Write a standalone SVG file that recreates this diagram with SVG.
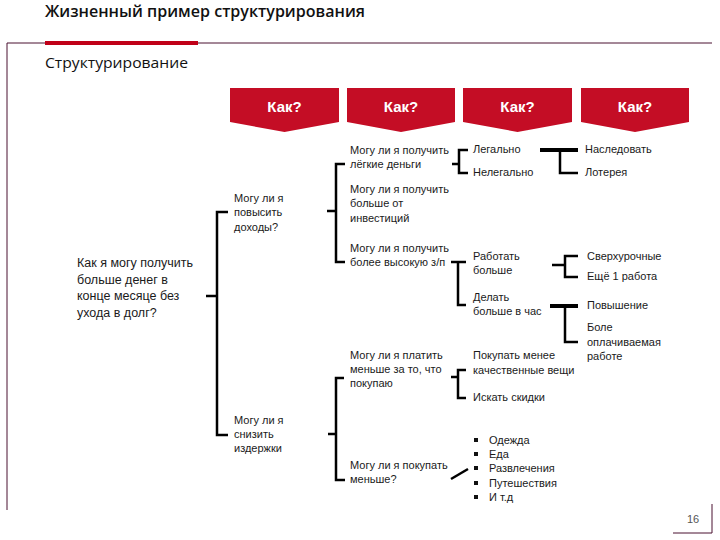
<svg xmlns="http://www.w3.org/2000/svg" width="720" height="540" viewBox="0 0 720 540">
<style>
.t{font-family:"Liberation Sans",Arial,sans-serif;font-size:11px;fill:#1a1a1a}
.big{font-size:12.5px}
.chev{fill:#c40d25}
.ct{font-family:"Liberation Sans",Arial,sans-serif;font-size:15px;font-weight:bold;fill:#ffffff;text-anchor:middle}
.ln{fill:none;stroke:#000;stroke-width:2.5}
.thick{fill:none;stroke:#000;stroke-width:4}
.frame{fill:none;stroke:#4a1030;stroke-width:1}
</style>
<rect width="720" height="540" fill="#ffffff"/>
<text x="45" y="17" font-family="'Open Sans','Liberation Sans',sans-serif" font-size="15.5" font-weight="600" fill="#111" textLength="320" lengthAdjust="spacingAndGlyphs">Жизненный пример структурирования</text>
<path class="frame" d="M7,510 V43 H712"/>
<path class="frame" d="M712,504 V533 H673"/>
<rect x="45" y="41" width="153" height="4" fill="#c00018"/>
<text x="45" y="68" font-family="'Open Sans','Liberation Sans',sans-serif" font-size="14.5" fill="#111" textLength="143" lengthAdjust="spacingAndGlyphs">Структурирование</text>

<g id="headers">
<g id="how1"><polygon class="chev" points="230,88 339,88 339,122 284.5,132 230,122"/><text class="ct" x="284.5" y="112">Как?</text></g>
<g id="how2"><polygon class="chev" points="347,88 455,88 455,122 401,132 347,122"/><text class="ct" x="401" y="112">Как?</text></g>
<g id="how3"><polygon class="chev" points="463,88 572,88 572,122 517.5,132 463,122"/><text class="ct" x="517.5" y="112">Как?</text></g>
<g id="how4"><polygon class="chev" points="581,88 689,88 689,122 635,132 581,122"/><text class="ct" x="635" y="112">Как?</text></g>
</g>

<g id="connectors">
<path class="ln" d="M228,212 H217 V435 H228 M206,296 H217"/>
<path class="ln" d="M345,164 H336 V262 H345 M327,211 H336"/>
<path class="ln" d="M344,378 H336 V480 H345 M328,434 H336"/>
<path class="ln" d="M468,150 H459 V173 H468 M452,164 H459"/>
<path class="thick" d="M540,150 H578"/>
<path class="ln" d="M560,150 V173 H578"/>
<path class="ln" d="M451,262 H466 M458,262 V305 H466"/>
<path class="ln" d="M552,265 H565 M578,256 H565 V277 H578"/>
<path class="thick" d="M550,306 H578"/>
<path class="ln" d="M565,306 V342 H578"/>
<path class="ln" d="M466,370 H458 V398 H466 M451,377 H458"/>
<path class="ln" d="M451,479 L468,469"/>
</g>

<g id="root"><text class="t big" x="77" y="267">Как я могу получить</text><text class="t big" x="77" y="284">больше денег в</text><text class="t big" x="77" y="300">конце месяце без</text><text class="t big" x="77" y="317">ухода в долг?</text></g>

<g id="raise"><text class="t" x="234" y="202">Могу ли я</text><text class="t" x="234" y="216">повысить</text><text class="t" x="234" y="231">доходы?</text></g>
<g id="cut"><text class="t" x="234" y="424">Могу ли я</text><text class="t" x="234" y="438">снизить</text><text class="t" x="234" y="452">издержки</text></g>

<g id="easy"><text class="t" x="350" y="154">Могу ли я получить</text><text class="t" x="350" y="168">лёгкие деньги</text></g>
<g id="invest"><text class="t" x="350" y="193">Могу ли я получить</text><text class="t" x="350" y="207">больше от</text><text class="t" x="350" y="222">инвестиций</text></g>
<g id="salary"><text class="t" x="350" y="252">Могу ли я получить</text><text class="t" x="350" y="266">более высокую з/п</text></g>
<g id="payless"><text class="t" x="350" y="359">Могу ли я платить</text><text class="t" x="350" y="373">меньше за то, что</text><text class="t" x="350" y="387">покупаю</text></g>
<g id="buyless"><text class="t" x="350" y="469">Могу ли я покупать</text><text class="t" x="350" y="483">меньше?</text></g>

<g id="legal"><text class="t" x="473" y="153">Легально</text></g>
<g id="illegal"><text class="t" x="473" y="176">Нелегально</text></g>
<g id="inherit"><text class="t" x="585" y="153">Наследовать</text></g>
<g id="lottery"><text class="t" x="585" y="176">Лотерея</text></g>

<g id="workmore"><text class="t" x="473" y="260">Работать</text><text class="t" x="473" y="274">больше</text></g>
<g id="perhour"><text class="t" x="473" y="301">Делать</text><text class="t" x="473" y="315">больше в час</text></g>
<g id="overtime"><text class="t" x="587" y="260">Сверхурочные</text></g>
<g id="secondjob"><text class="t" x="587" y="280">Ещё 1 работа</text></g>
<g id="promotion"><text class="t" x="587" y="309">Повышение</text></g>
<g id="betterjob"><text class="t" x="587" y="331">Боле</text><text class="t" x="587" y="346">оплачиваемая</text><text class="t" x="587" y="360">работе</text></g>

<g id="cheaper"><text class="t" x="473" y="359">Покупать менее</text><text class="t" x="473" y="374">качественные вещи</text></g>
<g id="discounts"><text class="t" x="473" y="401">Искать скидки</text></g>

<g id="list">
<rect x="474" y="438" width="4" height="4" fill="#111"/><text class="t" x="489" y="444">Одежда</text>
<rect x="474" y="452" width="4" height="4" fill="#111"/><text class="t" x="489" y="458">Еда</text>
<rect x="474" y="466" width="4" height="4" fill="#111"/><text class="t" x="489" y="472">Развлечения</text>
<rect x="474" y="481" width="4" height="4" fill="#111"/><text class="t" x="489" y="487">Путешествия</text>
<rect x="474" y="495" width="4" height="4" fill="#111"/><text class="t" x="489" y="501">И т.д</text>
</g>

<text x="687" y="523" font-family="'Liberation Sans',Arial,sans-serif" font-size="11" fill="#555">16</text>
</svg>
